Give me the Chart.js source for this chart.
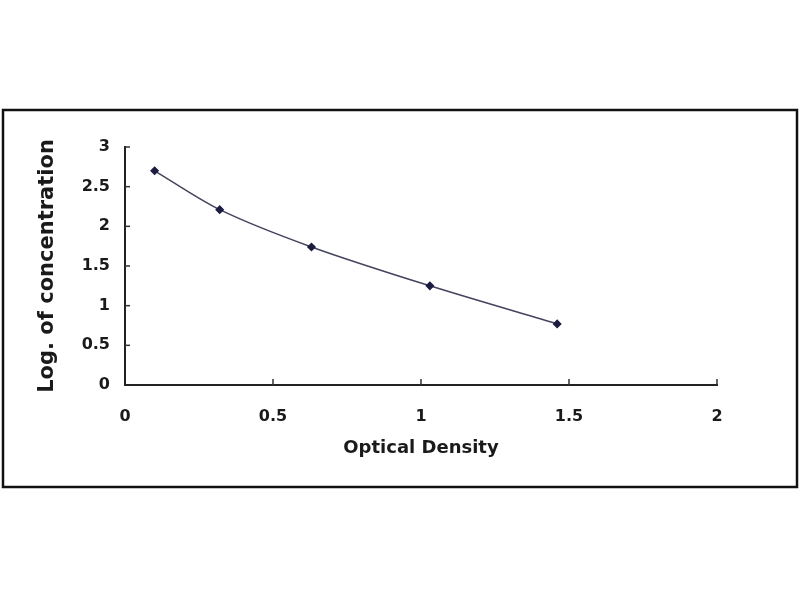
<!DOCTYPE html>
<html>
<head>
<meta charset="utf-8">
<script src="https://cdn.jsdelivr.net/npm/chart.js@4.4.1/dist/chart.umd.min.js"></script>
<style>
  html, body { margin: 0; padding: 0; background: #fff; }
  #wrap { width: 800px; height: 600px; }
</style>
</head>
<body>
<div id="wrap"><canvas id="curve"></canvas></div>
<script>
// standard curve points
var odValues = [0.1, 0.32, 0.63, 1.03, 1.46];
var logConc = [2.70, 2.21, 1.74, 1.25, 0.77];
var xTicks = [0, 0.5, 1, 1.5, 2];
var yTicks = [0, 0.5, 1, 1.5, 2, 2.5, 3];

var points = odValues.map(function(v, i) { return {x: v, y: logConc[i]}; });

// outer frame + small tick marks pointing into the plot
var frameAndTicks = {
  id: 'frameAndTicks',
  beforeDraw: function(chart) {
    var c = chart.ctx;
    c.save();
    c.fillStyle = '#fff';
    c.fillRect(0, 0, chart.width, chart.height);
    c.restore();
  },
  afterDraw: function(chart) {
    var c = chart.ctx;
    var xs = chart.scales.x, ys = chart.scales.y;
    var area = chart.chartArea;
    c.save();
    c.strokeStyle = '#111';
    c.lineWidth = 2.5;
    c.strokeRect(3, 110, 794, 377);
    c.strokeStyle = '#333';
    c.lineWidth = 1.5;
    xTicks.forEach(function(t) {
      if (t === 0) return;
      var px = xs.getPixelForValue(t);
      c.beginPath();
      c.moveTo(px, area.bottom);
      c.lineTo(px, area.bottom - 6);
      c.stroke();
    });
    yTicks.forEach(function(t) {
      if (t === 0) return;
      var py = ys.getPixelForValue(t);
      c.beginPath();
      c.moveTo(area.left, py);
      c.lineTo(area.left + 5, py);
      c.stroke();
    });
    c.restore();
  }
};

function plainLabel(v) { return String(v); }

var ctx = document.getElementById('curve').getContext('2d');
var chart = new Chart(ctx, {
  type: 'scatter',
  data: {
    datasets: [{
      data: points,
      showLine: true,
      tension: 0.3,
      borderColor: '#44445e',
      borderWidth: 1.5,
      pointStyle: 'rectRot',
      pointRadius: 3.5,
      pointBackgroundColor: '#1c1c40',
      pointBorderColor: '#1c1c40'
    }]
  },
  options: {
    responsive: true,
    maintainAspectRatio: false,
    animation: false,
    layout: { padding: { top: 147, right: 83, bottom: 115, left: 0 } },
    plugins: { legend: { display: false }, tooltip: { enabled: false } },
    scales: {
      x: {
        type: 'linear',
        min: 0, max: 2,
        afterFit: function(s) { s.height = 100; },
        afterBuildTicks: function(s) { s.ticks = xTicks.map(function(v) { return {value: v}; }); },
        grid: { display: false, drawTicks: false },
        border: { display: true, color: '#222', width: 2 },
        ticks: {
          padding: 22,
          color: '#1a1a1a',
          callback: plainLabel,
          font: { family: 'DejaVu Sans', size: 16, weight: 'bold' }
        },
        title: {
          display: true,
          text: 'Optical Density',
          color: '#1a1a1a',
          padding: { top: 0, bottom: 26 },
          font: { family: 'DejaVu Sans', size: 18, weight: 'bold' }
        }
      },
      y: {
        type: 'linear',
        min: 0, max: 3,
        afterFit: function(s) { s.width = 125; },
        afterBuildTicks: function(s) { s.ticks = yTicks.map(function(v) { return {value: v}; }); },
        grid: { display: false, drawTicks: false },
        border: { display: true, color: '#222', width: 2 },
        ticks: {
          padding: 15,
          color: '#1a1a1a',
          callback: plainLabel,
          font: { family: 'DejaVu Sans', size: 16, weight: 'bold' }
        },
        title: {
          display: true,
          text: 'Log. of concentration',
          color: '#1a1a1a',
          padding: { top: 35, bottom: 0 },
          font: { family: 'DejaVu Sans', size: 21, weight: 'bold' }
        }
      }
    }
  },
  plugins: [frameAndTicks]
});
</script>
</body>
</html>
